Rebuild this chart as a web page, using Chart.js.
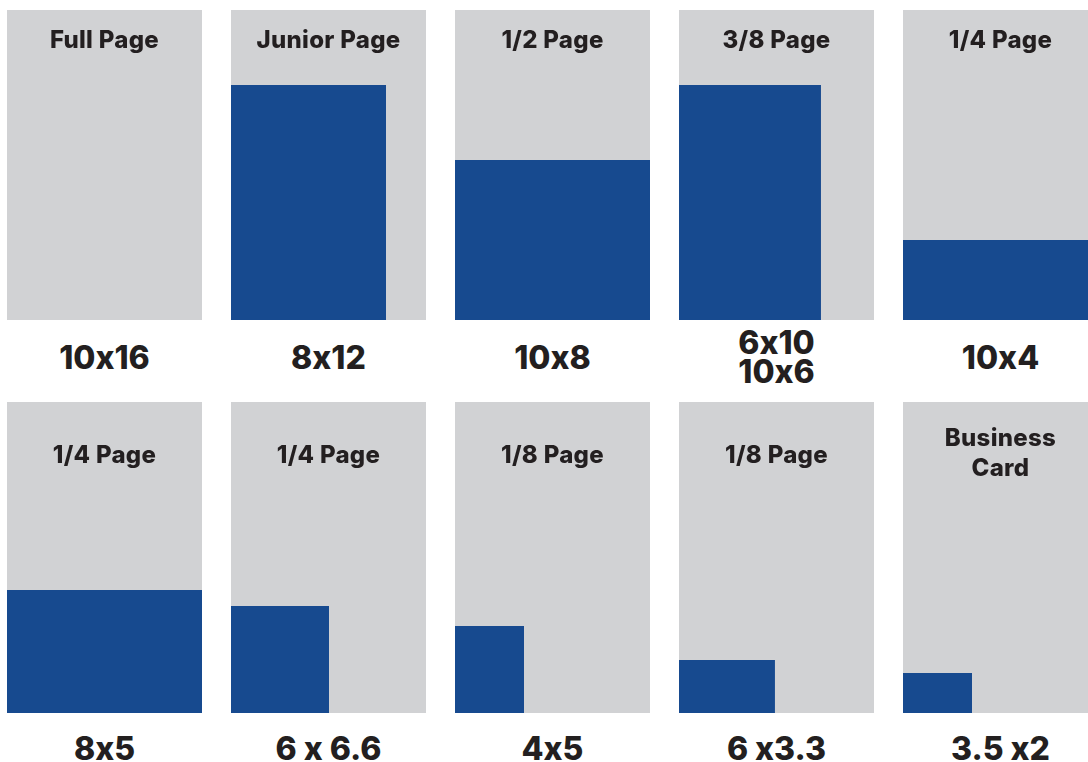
<!DOCTYPE html>
<html>
<head>
<meta charset="utf-8">
<script src="https://cdn.jsdelivr.net/npm/chart.js@4"></script>
<style>
  html, body { margin: 0; padding: 0; background: #fff; }
  body { width: 1088px; height: 762px; overflow: hidden; position: relative; font-family: "Inter", "Liberation Sans", sans-serif; color: #231f20; font-feature-settings: "calt" 0; }
  .panel { position: absolute; width: 195px; }
  .panel canvas { display: block; }
  .title { position: absolute; left: 0; width: 195px; text-align: center; font-weight: 800; font-size: 24px; line-height: 30px; letter-spacing: 0.3px; }
  .size { position: absolute; left: 0; width: 195px; text-align: center; font-weight: 800; font-size: 32px; line-height: 29px; }
</style>
</head>
<body>
<script>
// Ad sizes drawn on a 10 x 16 full page
const pageW = 10
const pageH = 16
const titles = ["Full Page", "Junior Page", "1/2 Page", "3/8 Page", "1/4 Page",
                "1/4 Page", "1/4 Page", "1/8 Page", "1/8 Page", ["Business", "Card"]]
const sizeLabels = ["10x16", "8x12", "10x8", ["6x10", "10x6"], "10x4",
                    "8x5", "6 x 6.6", "4x5", "6 x3.3", "3.5 x2"]
const adWidths  = [0, 7.95, 10, 7.28, 10, 10, 5.03, 3.54, 4.92, 3.54]
const adHeights = [0, 12.13, 8.26, 12.13, 4.13, 6.33, 5.5, 4.48, 2.73, 2.06]

const gray = "#d1d2d4"
const blue = "#174a8f"
// title centre measured from the top of each panel, size label centre in page coords
const rows = [{ top: 10, h: 310, title: 30, label: 357 }, { top: 402, h: 311, title: 53, label: 748 }]
let charts = []

function rectLine(w, h) {
  return [{ x: 0, y: h }, { x: w, y: h }]
}

titles.forEach((title, i) => {
  const row = rows[Math.floor(i / 5)]
  const col = i % 5
  const panel = document.createElement("div")
  panel.className = "panel"
  panel.style.left = (7 + col * 224) + "px"
  panel.style.top = row.top + "px"
  panel.style.height = row.h + "px"
  const canvas = document.createElement("canvas")
  canvas.width = 195
  canvas.height = row.h
  panel.appendChild(canvas)

  const t = document.createElement("div")
  t.className = "title"
  const lines = [].concat(title)
  t.innerHTML = lines.join("<br>")
  t.style.top = (lines.length > 1 ? 36 - 15 : row.title - 15) + "px"
  panel.appendChild(t)

  const s = document.createElement("div")
  s.className = "size"
  const sl = [].concat(sizeLabels[i])
  s.innerHTML = sl.join("<br>")
  s.style.top = (row.label - row.top - sl.length * 29 / 2) + "px"
  panel.appendChild(s)
  document.body.appendChild(panel)

  charts.push(new Chart(canvas, {
    type: "line",
    data: {
      datasets: [
        { data: rectLine(adWidths[i], adHeights[i]), fill: "origin", backgroundColor: blue, borderWidth: 0, pointRadius: 0, order: 0 },
        { data: rectLine(pageW, pageH), fill: "origin", backgroundColor: gray, borderWidth: 0, pointRadius: 0, order: 1 }
      ]
    },
    options: {
      responsive: false,
      animation: false,
      layout: { padding: 0 },
      plugins: { legend: { display: false }, tooltip: { enabled: false } },
      scales: {
        x: { type: "linear", min: 0, max: pageW, display: false },
        y: { type: "linear", min: 0, max: pageH, display: false }
      }
    }
  }))
})
</script>
</body>
</html>
